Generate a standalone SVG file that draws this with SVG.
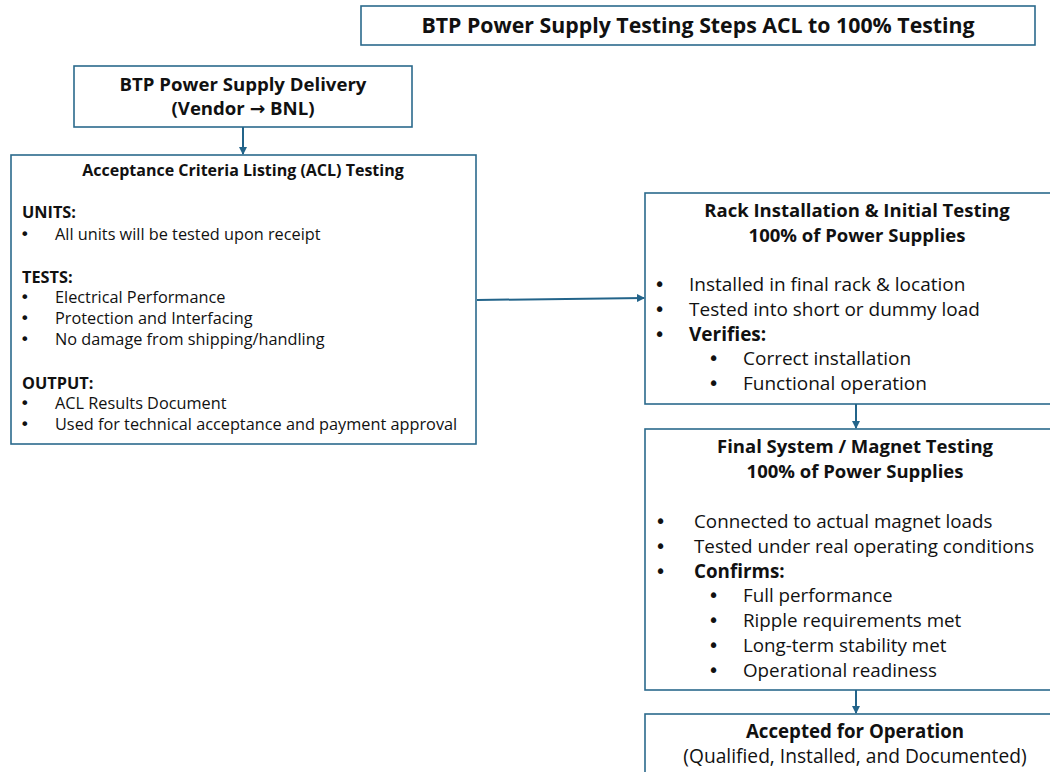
<svg xmlns="http://www.w3.org/2000/svg" width="1050" height="772" viewBox="0 0 1050 772">
<defs>
<marker id="ah" markerWidth="8" markerHeight="8" refX="7" refY="4" orient="auto" markerUnits="userSpaceOnUse">
<path d="M0,0 L8,4 L0,8 Z" fill="#23648a"/>
</marker>
<style>
.box{fill:#fff;stroke:#2b6a8c;stroke-width:1.6}
.t{font-family:"Open Sans","Liberation Sans",sans-serif;fill:#111}
.b{font-weight:bold}
.c{text-anchor:middle}
.bu{font-family:"DejaVu Sans",sans-serif}
.conn{stroke:#23648a;stroke-width:2;fill:none}
</style>
</defs>
<rect width="1050" height="772" fill="#fff"/>
<g id="title">
<rect class="box" x="361" y="6" width="674" height="39"/>
<text class="t b c" x="698" y="33" font-size="21.3">BTP Power Supply Testing Steps ACL to 100% Testing</text>
</g>
<g id="delivery">
<rect class="box" x="74" y="66" width="338" height="61"/>
<text class="t b c" x="243" y="91" font-size="18.6">BTP Power Supply Delivery</text>
<text class="t b c" x="243" y="115" font-size="18.6">(Vendor <tspan class="bu">→</tspan> BNL)</text>
</g>
<g id="acl">
<rect class="box" x="11" y="155" width="465" height="289"/>
<text class="t b c" x="243" y="176" font-size="16">Acceptance Criteria Listing (ACL) Testing</text>
<g class="t" font-size="16.3">
<text class="b" x="22" y="218">UNITS:</text>
<text class="bu" x="20" y="240">•</text><text x="55" y="240">All units will be tested upon receipt</text>
<text class="b" x="22" y="283">TESTS:</text>
<text class="bu" x="20" y="303">•</text><text x="55" y="303">Electrical Performance</text>
<text class="bu" x="20" y="324">•</text><text x="55" y="324">Protection and Interfacing</text>
<text class="bu" x="20" y="345">•</text><text x="55" y="345">No damage from shipping/handling</text>
<text class="b" x="22" y="389">OUTPUT:</text>
<text class="bu" x="20" y="409">•</text><text x="55" y="409">ACL Results Document</text>
<text class="bu" x="20" y="430">•</text><text x="55" y="430">Used for technical acceptance and payment approval</text>
</g>
</g>
<g id="rack">
<rect class="box" x="645" y="193" width="420" height="211"/>
<text class="t b c" x="857" y="217" font-size="18.5">Rack Installation &amp; Initial Testing</text>
<text class="t b c" x="857" y="242" font-size="18.5">100% of Power Supplies</text>
<g class="t" font-size="19">
<text class="bu" x="654" y="291">•</text><text x="689" y="291">Installed in final rack &amp; location</text>
<text class="bu" x="654" y="316">•</text><text x="689" y="316">Tested into short or dummy load</text>
<text class="bu" x="654" y="341">•</text><text class="b" x="689" y="341">Verifies:</text>
<text class="bu" x="708" y="365">•</text><text x="743" y="365">Correct installation</text>
<text class="bu" x="708" y="390">•</text><text x="743" y="390">Functional operation</text>
</g>
</g>
<g id="final">
<rect class="box" x="645" y="429" width="420" height="261"/>
<text class="t b c" x="855" y="453" font-size="18.5">Final System / Magnet Testing</text>
<text class="t b c" x="855" y="478" font-size="18.5">100% of Power Supplies</text>
<g class="t" font-size="18.8">
<text class="bu" x="655" y="528">•</text><text x="694" y="528">Connected to actual magnet loads</text>
<text class="bu" x="655" y="553">•</text><text x="694" y="553">Tested under real operating conditions</text>
<text class="bu" x="655" y="578">•</text><text class="b" x="694" y="578">Confirms:</text>
<text class="bu" x="708" y="602">•</text><text x="743" y="602">Full performance</text>
<text class="bu" x="708" y="627">•</text><text x="743" y="627">Ripple requirements met</text>
<text class="bu" x="708" y="652">•</text><text x="743" y="652">Long-term stability met</text>
<text class="bu" x="708" y="677">•</text><text x="743" y="677">Operational readiness</text>
</g>
</g>
<g id="accepted">
<rect class="box" x="645" y="714" width="420" height="70"/>
<text class="t b c" x="855" y="738" font-size="18.7">Accepted for Operation</text>
<text class="t c" x="855" y="763" font-size="19.2">(Qualified, Installed, and Documented)</text>
</g>
<g id="connectors">
<line class="conn" x1="243" y1="127" x2="243" y2="154" marker-end="url(#ah)"/>
<line class="conn" x1="477" y1="300" x2="644" y2="298" marker-end="url(#ah)"/>
<line class="conn" x1="856" y1="404" x2="856" y2="428" marker-end="url(#ah)"/>
<line class="conn" x1="856" y1="690" x2="856" y2="713" marker-end="url(#ah)"/>
</g>
</svg>
